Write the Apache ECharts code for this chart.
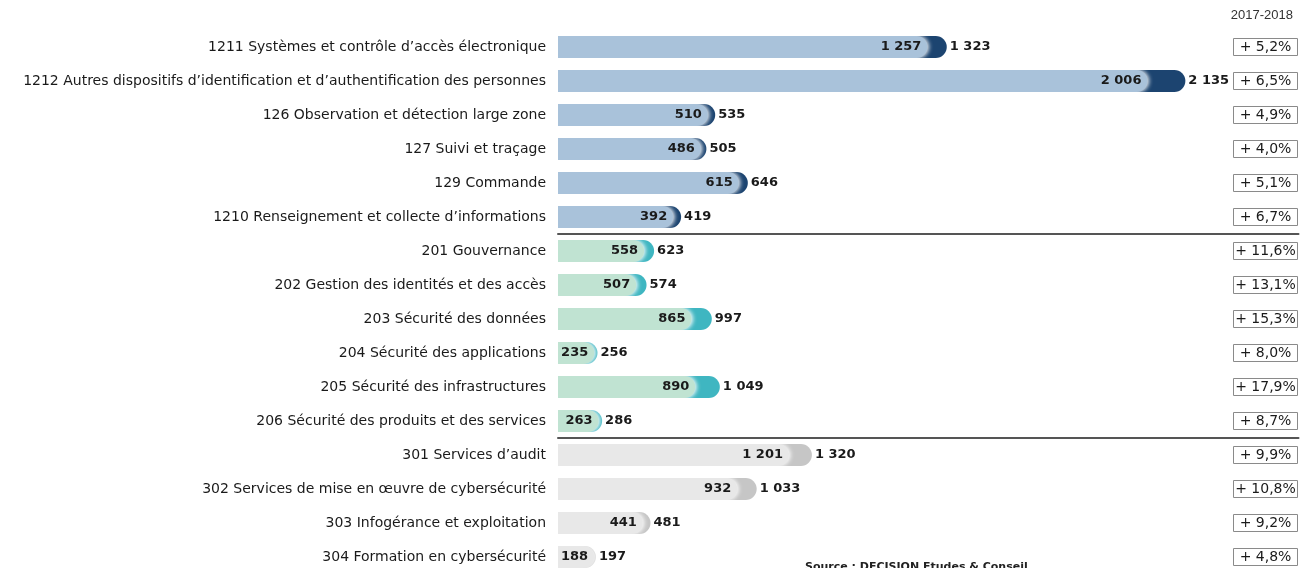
<!DOCTYPE html>
<html><head><meta charset="utf-8">
<script src="https://cdn.jsdelivr.net/npm/echarts@6/dist/echarts.min.js"></script>
<style>html,body{margin:0;padding:0;background:#fff;overflow:hidden;height:568px}#c{width:1301px;height:584px}</style>
</head><body><div id="c"></div>
<script>
const categories = [
  "1211 Systèmes et contrôle d’accès électronique",
  "1212 Autres dispositifs d’identification et d’authentification des personnes",
  "126 Observation et détection large zone",
  "127 Suivi et traçage",
  "129 Commande",
  "1210 Renseignement et collecte d’informations",
  "201 Gouvernance",
  "202 Gestion des identités et des accès",
  "203 Sécurité des données",
  "204 Sécurité des applications",
  "205 Sécurité des infrastructures",
  "206 Sécurité des produits et des services",
  "301 Services d’audit",
  "302 Services de mise en œuvre de cybersécurité",
  "303 Infogérance et exploitation",
  "304 Formation en cybersécurité"
];
const values2017 = [1257, 2006, 510, 486, 615, 392, 558, 507, 865, 235, 890, 263, 1201, 932, 441, 188];
const values2018 = [1323, 2135, 535, 505, 646, 419, 623, 574, 997, 256, 1049, 286, 1320, 1033, 481, 197];
const growth = ["+ 5,2%", "+ 6,5%", "+ 4,9%", "+ 4,0%", "+ 5,1%", "+ 6,7%", "+ 11,6%", "+ 13,1%", "+ 15,3%", "+ 8,0%", "+ 17,9%", "+ 8,7%", "+ 9,9%", "+ 10,8%", "+ 9,2%", "+ 4,8%"];
const groupSizes = [6, 6, 4];
const groupAxisMax = [2520, 4800, 3850];

const darkColors = ['#1c4470', '#3fb6c1', '#c6c6c6'];
const lightColors = ['#a9c2da', '#c0e3d2', '#e8e8e8'];
const FONT = '"DejaVu Sans", Verdana, sans-serif';
const FONT2 = '"Liberation Sans", Arial, sans-serif';
const fmt = v => String(v).replace(/\B(?=(\d{3})+(?!\d))/g, ' ');

const ROW = 34, TOP = 30, LEFT = 558;
const grids = [], xAxes = [], yAxes = [], series = [];
let start = 0;
groupSizes.forEach((n, g) => {
  const cats = categories.slice(start, start + n);
  grids.push({left: LEFT, right: 0, top: TOP + start * ROW, height: n * ROW, containLabel: false});
  xAxes.push({
    gridIndex: g, type: 'value', min: 0, max: groupAxisMax[g],
    axisLabel: {show: false}, splitLine: {show: false}, axisTick: {show: false},
    axisLine: {show: g < 2, onZero: false, lineStyle: {color: '#555', width: 2}}
  });
  yAxes.push({
    gridIndex: g, type: 'category', data: cats, inverse: true, position: 'left',
    axisLine: {show: false}, axisTick: {show: false},
    axisLabel: {margin: 12, fontSize: 14, color: '#1a1a1a', fontFamily: FONT}
  });
  yAxes.push({
    gridIndex: g, type: 'category', data: growth.slice(start, start + n), inverse: true, position: 'right',
    axisLine: {show: false}, axisTick: {show: false},
    axisLabel: {inside: true, margin: 1, color: '#222',
      borderColor: '#8a8a8a', borderWidth: 1, padding: [2, 0, 1, 0],
      formatter: v => '{b|' + v + '}',
      rich: {b: {width: 64, align: 'center', fontSize: 14, color: '#1a1a1a', fontFamily: FONT}}
    }
  });
  series.push({
    type: 'bar', xAxisIndex: g, yAxisIndex: g * 2, barWidth: 22, barGap: '-100%', z: 2,
    data: values2018.slice(start, start + n),
    itemStyle: {color: darkColors[g], borderRadius: [0, 11, 11, 0]},
    label: {show: true, position: 'right', distance: 3, formatter: p => fmt(p.value),
      fontWeight: 'bold', fontSize: 13, color: '#1a1a1a', fontFamily: FONT},
    silent: true
  });
  series.push({
    type: 'bar', xAxisIndex: g, yAxisIndex: g * 2, barWidth: 22, barGap: '-100%', z: 3,
    data: values2017.slice(start, start + n),
    itemStyle: {color: lightColors[g], borderRadius: [0, 11, 11, 0],
      shadowColor: 'rgba(255,255,255,0.95)', shadowBlur: 4, shadowOffsetX: 1.5},
    label: {show: true, position: 'insideRight', distance: 6, formatter: p => fmt(p.value),
      fontWeight: 'bold', fontSize: 13, color: '#1a1a1a', fontFamily: FONT},
    silent: true
  });
  start += n;
});

const chart = echarts.init(document.getElementById('c'), null, {renderer: 'canvas'});
chart.setOption({
  backgroundColor: '#fff',
  animation: false,
  title: [
    {text: '2017-2018', right: 3, top: 4, textStyle: {fontSize: 13, fontWeight: 'normal', color: '#333', fontFamily: FONT2}},
    {text: 'Source : DECISION Etudes & Conseil', left: 800, top: 557, textStyle: {fontSize: 11, fontWeight: 'bold', color: '#222', fontFamily: FONT}}
  ],
  grid: grids, xAxis: xAxes, yAxis: yAxes, series: series
});
</script></body></html>
